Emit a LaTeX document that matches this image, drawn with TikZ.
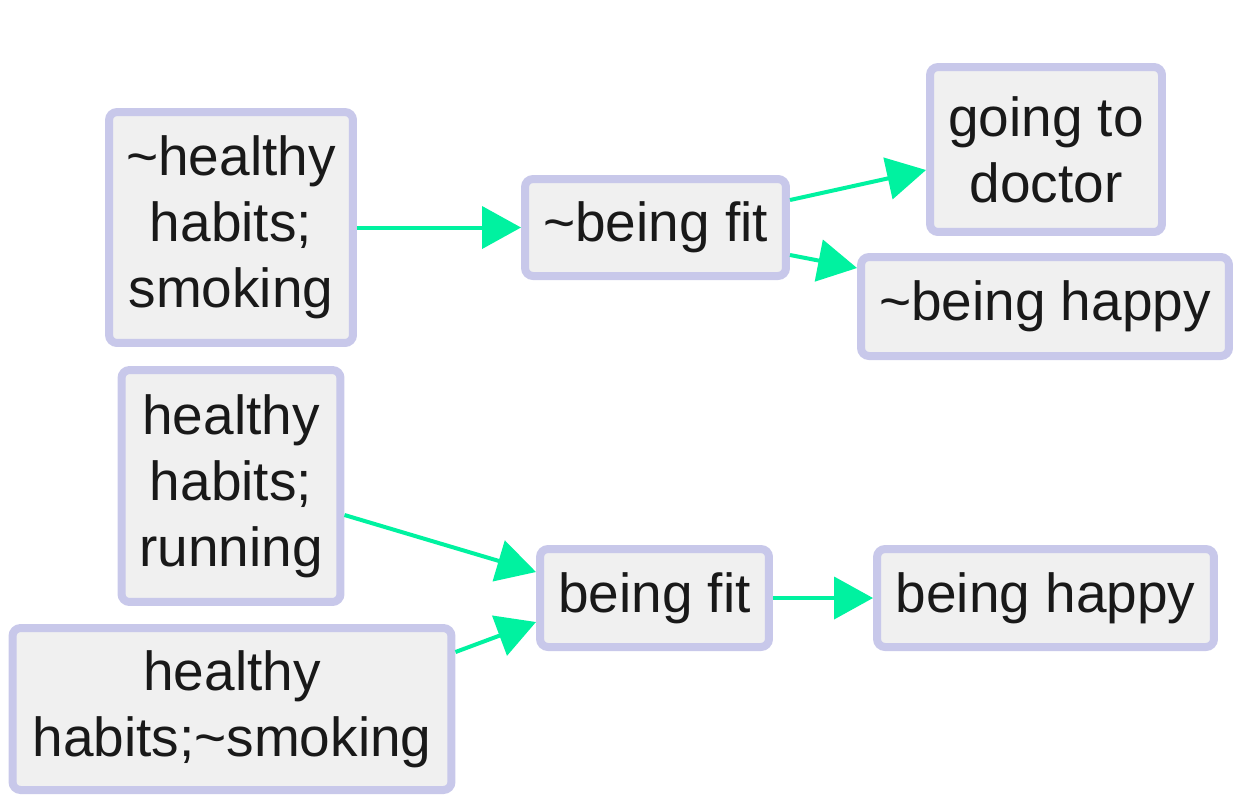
\documentclass[tikz,border=0pt]{standalone}
\usepackage{fontspec}
\setmainfont{Liberation Sans}
\usetikzlibrary{arrows.meta}
\definecolor{bordc}{HTML}{C8C8EA}
\definecolor{fillc}{HTML}{F0F0F0}
\definecolor{arrc}{HTML}{00F2A0}
\tikzset{
  box/.style={draw=bordc, fill=fillc, line width=0.16cm, rounded corners=0.16cm,
    inner sep=0pt, align=center, font=\fontsize{31.3}{37.5}\selectfont, text=black!90},
  arr/.style={draw=arrc, line width=0.08cm, -{Triangle[length=0.78cm,width=0.84cm]}}
}
\begin{document}
\begin{tikzpicture}[x=0.02cm,y=-0.02cm]
\useasboundingbox (0,0) rectangle (1239,796);
\node[box, minimum width=4.88cm, minimum height=4.62cm] (n1) at (231,227.5) {\textasciitilde healthy\\habits;\\smoking};
\node[box, minimum width=5.22cm, minimum height=1.94cm] (n2) at (655.5,227.5) {\textasciitilde being fit};
\node[box, minimum width=4.64cm, minimum height=3.30cm] (n3) at (1046,149.5) {going to\\doctor};
\node[box, minimum width=7.36cm, minimum height=1.98cm] (n4) at (1045,306.5) {\textasciitilde being happy};
\node[box, minimum width=4.38cm, minimum height=4.64cm] (n5) at (231,486) {healthy\\habits;\\running};
\node[box, minimum width=8.78cm, minimum height=3.24cm] (n6) at (232,709) {healthy\\habits;\textasciitilde smoking};
\node[box, minimum width=4.58cm, minimum height=1.96cm] (n7) at (654.5,598) {being fit};
\node[box, minimum width=6.74cm, minimum height=1.96cm] (n8) at (1045.5,598) {being happy};
\draw[arr] (n1.east) -- (n2.west);
\draw[arr] ([yshift=0.55cm]n2.east) -- ([yshift=-0.41cm]n3.west);
\draw[arr] ([yshift=-0.55cm]n2.east) -- ([yshift=0.77cm]n4.west);
\draw[arr] ([yshift=-0.58cm]n5.east) -- ([yshift=0.52cm]n7.west);
\draw[arr] ([yshift=1.14cm]n6.east) -- ([yshift=-0.48cm]n7.west);
\draw[arr] (n7.east) -- (n8.west);
\end{tikzpicture}
\end{document}
